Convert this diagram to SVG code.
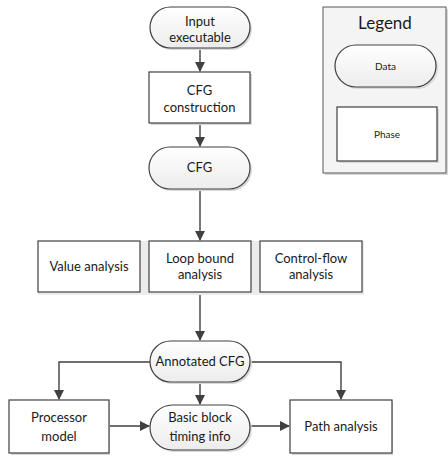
<svg xmlns="http://www.w3.org/2000/svg" width="448" height="456" viewBox="0 0 448 456">
<defs>
<linearGradient id="g" x1="0" y1="0" x2="0" y2="1"><stop offset="0" stop-color="#ffffff"/><stop offset="1" stop-color="#ececec"/></linearGradient>
<marker id="ah" markerWidth="10" markerHeight="10" refX="9" refY="5" orient="auto" markerUnits="userSpaceOnUse"><path d="M0,0 L10,5 L0,10 z" fill="#404040"/></marker>
</defs>
<style>
.sh{fill:#d9d9d9}
.box{fill:#fff;stroke:#404040;stroke-width:1.2}
.data{fill:url(#g);stroke:#404040;stroke-width:1.2}
.t{font-family:Lato,"Open Sans",sans-serif;font-size:13px;fill:#1a1a1a;text-anchor:middle}
.s{font-size:10px}
.l{font-size:17px}
.c{fill:none;stroke:#404040;stroke-width:1.4;marker-end:url(#ah)}
</style>
<rect width="448" height="456" fill="#fff"/>
<g id="legend">
<rect x="325" y="9" width="123" height="166" class="sh"/>
<rect x="323" y="7" width="123" height="166" style="fill:#f4f4f4;stroke:#595959;stroke-width:1"/>
<text x="385" y="29" class="t l">Legend</text>
<rect x="337" y="47" width="101" height="42" rx="21" class="sh"/>
<rect x="335" y="45" width="101" height="42" rx="21" class="data"/>
<text x="385.5" y="70" class="t s">Data</text>
<rect x="339" y="109" width="100" height="54" class="sh"/>
<rect x="337" y="107" width="100" height="54" class="box"/>
<text x="387" y="138" class="t s">Phase</text>
</g>
<g id="connectors">
<path d="M200,48 V71" class="c"/>
<path d="M200,123 V146" class="c"/>
<path d="M200,189 V240" class="c"/>
<path d="M200,292 V340" class="c"/>
<path d="M150,362 H59 V399" class="c"/>
<path d="M250,362 H341 V399" class="c"/>
<path d="M200,382 V404" class="c"/>
<path d="M109,426 H149" class="c"/>
<path d="M250,426 H289" class="c"/>
</g>
<g id="input">
<rect x="152" y="9" width="100" height="41" rx="20.5" class="sh"/>
<rect x="150" y="7" width="100" height="41" rx="20.5" class="data"/>
<text x="200" y="26" class="t">Input</text>
<text x="200" y="42" class="t">executable</text>
</g>
<g id="cfgconstruction">
<rect x="151" y="74" width="101" height="51" class="sh"/>
<rect x="149" y="72" width="101" height="51" class="box"/>
<text x="199.5" y="95" class="t">CFG</text>
<text x="199.5" y="112" class="t">construction</text>
</g>
<g id="cfg">
<rect x="151" y="149" width="101" height="42" rx="21" class="sh"/>
<rect x="149" y="147" width="101" height="42" rx="21" class="data"/>
<text x="199.5" y="172" class="t">CFG</text>
</g>
<rect x="38" y="241" width="326" height="54" fill="#ececec"/>
<g id="value">
<rect x="38" y="241" width="102" height="51" class="box"/>
<text x="89" y="271" class="t">Value analysis</text>
</g>
<g id="loop">
<rect x="149" y="241" width="102" height="51" class="box"/>
<text x="200" y="263" class="t">Loop bound</text>
<text x="200" y="279" class="t">analysis</text>
</g>
<g id="controlflow">
<rect x="260" y="241" width="102" height="51" class="box"/>
<text x="311" y="263" class="t">Control-flow</text>
<text x="311" y="279" class="t">analysis</text>
</g>
<g id="annotated">
<rect x="152" y="343" width="100" height="41" rx="20.5" class="sh"/>
<rect x="150" y="341" width="100" height="41" rx="20.5" class="data"/>
<text x="200" y="366" class="t">Annotated CFG</text>
</g>
<g id="processor">
<rect x="11" y="402" width="99" height="53" class="sh"/>
<rect x="9" y="400" width="100" height="53" class="box"/>
<text x="59" y="422" class="t">Processor</text>
<text x="59" y="441" class="t">model</text>
</g>
<g id="basicblock">
<rect x="152" y="407" width="100" height="45" rx="22.5" class="sh"/>
<rect x="150" y="405" width="100" height="45" rx="22.5" class="data"/>
<text x="200" y="422" class="t">Basic block</text>
<text x="200" y="441" class="t">timing info</text>
</g>
<g id="path">
<rect x="292" y="402" width="101" height="53" class="sh"/>
<rect x="290" y="400" width="102" height="53" class="box"/>
<text x="341" y="431" class="t">Path analysis</text>
</g>
</svg>
